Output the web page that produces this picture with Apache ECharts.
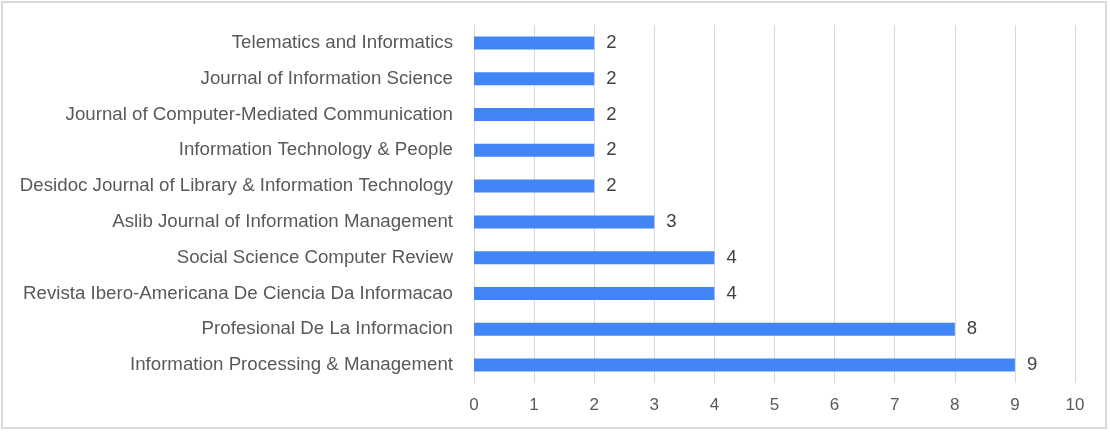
<!DOCTYPE html>
<html>
<head>
<meta charset="utf-8">
<script src="https://cdn.jsdelivr.net/npm/echarts@6/dist/echarts.min.js"></script>
<style>
  body { margin: 0; background: #fff; }
  #frame { position: absolute; left: 1px; top: 1px; width: 1106px; height: 428px; border: 2px solid #d9d9d9; box-sizing: border-box; }
  #myChart { position: absolute; left: 0; top: 0; width: 1110px; height: 432px; }
</style>
</head>
<body>
<div id="frame"></div>
<div id="myChart"></div>
<script>
// journals, top to bottom
var journals = [
  'Telematics and Informatics',
  'Journal of Information Science',
  'Journal of Computer-Mediated Communication',
  'Information Technology & People',
  'Desidoc Journal of Library & Information Technology',
  'Aslib Journal of Information Management',
  'Social Science Computer Review',
  'Revista Ibero-Americana De Ciencia Da Informacao',
  'Profesional De La Informacion',
  'Information Processing & Management'
];
var counts = [2, 2, 2, 2, 2, 3, 4, 4, 8, 9];

var myChart = echarts.init(document.getElementById('myChart'));
var option = {
  animation: false,
  grid: { left: 474, right: 35, top: 25, bottom: 49 },
  xAxis: {
    type: 'value',
    min: 0,
    max: 10,
    interval: 1,
    axisLine: { show: false },
    axisTick: { show: false },
    axisLabel: { color: '#595959', fontSize: 17, fontFamily: 'Liberation Sans', margin: 14 },
    splitLine: { lineStyle: { color: '#d9d9d9', width: 1 } }
  },
  yAxis: {
    type: 'category',
    inverse: true,
    data: journals,
    axisLine: { show: false },
    axisTick: { show: false },
    axisLabel: { color: '#595959', fontSize: 18.7, fontFamily: 'Liberation Sans', margin: 21 }
  },
  series: [
    {
      type: 'bar',
      data: counts,
      barWidth: 13,
      itemStyle: { color: '#4285f4' },
      label: {
        show: true,
        position: 'right',
        distance: 12,
        color: '#404040',
        fontSize: 18.5,
        fontFamily: 'Liberation Sans'
      }
    }
  ]
};
myChart.setOption(option);
</script>
</body>
</html>
